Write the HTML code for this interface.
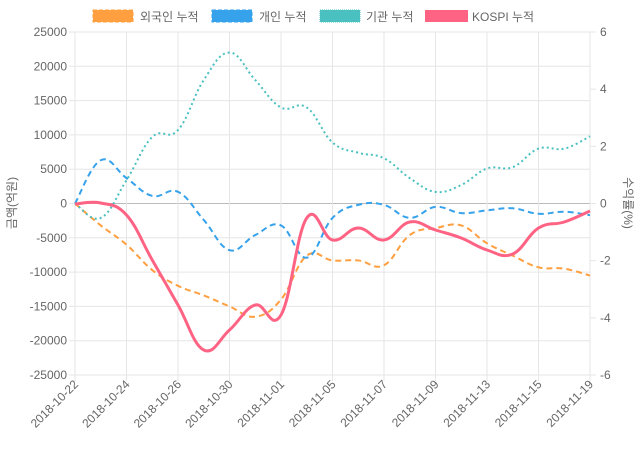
<!DOCTYPE html>
<html><head><meta charset="utf-8"><style>
body{margin:0;background:#fff;font-family:"Liberation Sans","Noto Sans CJK KR",sans-serif;}
svg text{font-family:"Liberation Sans","Noto Sans CJK KR",sans-serif;fill:#666;font-size:12px;}
</style></head><body>
<svg id="s" width="640" height="450" xmlns="http://www.w3.org/2000/svg">
<g id="grid"></g>
<g id="lines"></g>
<rect x="93" y="10" width="40" height="12" fill="#ff9f40" stroke="#ff9f40" stroke-dasharray="4 2"/>
<text x="140" y="21">외국인 누적</text>
<rect x="212" y="10" width="40" height="12" fill="#36a2eb" stroke="#36a2eb" stroke-dasharray="4 2"/>
<text x="259" y="21">개인 누적</text>
<rect x="320" y="10" width="40" height="12" fill="#4bc0c0" stroke="#4bc0c0" stroke-dasharray="1 1"/>
<text x="366" y="21">기관 누적</text>
<rect x="425" y="10" width="43" height="12" fill="#ff6384"/>
<text x="472" y="21">KOSPI 누적</text>
<text transform="translate(16,203) rotate(-90)" text-anchor="middle">금액(억원)</text>
<text transform="translate(624,203) rotate(90)" text-anchor="middle">수익률(%)</text>
</svg>
<script>
var s=document.getElementById('grid'),L=document.getElementById('lines'),ns='http://www.w3.org/2000/svg';
function el(t,a,p,txt){var e=document.createElementNS(ns,t);for(var k in a)e.setAttribute(k,a[k]);if(txt)e.textContent=txt;(p||s).appendChild(e);return e;}
var x0=75,x1=590,yT=32,yB=375;
for(var i=0;i<=10;i++){var y=yT+i*(yB-yT)/10,v=25000-i*5000;
el('line',{x1:x0,x2:x1,y1:y,y2:y,stroke:v==0?'#bbb':'#e6e6e6','stroke-width':1});
el('line',{x1:x0-6,x2:x0,y1:y,y2:y,stroke:'#e6e6e6'});
el('text',{x:67,y:y+4,'text-anchor':'end'},null,String(v));}
for(var i=0;i<=6;i++){var y=yT+i*(yB-yT)/6;el('line',{x1:x1,x2:x1+6,y1:y,y2:y,stroke:'#e6e6e6'});
el('text',{x:600,y:y+4},null,String(6-2*i));}
var dates=['2018-10-22','2018-10-24','2018-10-26','2018-10-30','2018-11-01','2018-11-05','2018-11-07','2018-11-09','2018-11-13','2018-11-15','2018-11-19'];
var dx=(x1-x0)/20;
for(var i=0;i<=10;i++){var x=x0+i*2*dx;el('line',{x1:x,x2:x,y1:yT,y2:yB+6,stroke:'#e6e6e6'});
el('text',{transform:'translate('+(x+4)+',385) rotate(-45)','text-anchor':'end'},null,dates[i]);}
function ym(v){return 203.5-v*(343/50000);}
function path(ys){var p=ys.map(function(y,i){return [x0+i*dx,y];});var d='M'+p[0][0]+','+p[0][1];
for(var i=0;i<p.length-1;i++){var a=p[i-1]||p[i],b=p[i],c=p[i+1],e=p[i+2]||c,t=0.2;
d+=' C'+(b[0]+(c[0]-a[0])*t)+','+(b[1]+(c[1]-a[1])*t)+' '+(c[0]-(e[0]-b[0])*t)+','+(c[1]-(e[1]-b[1])*t)+' '+c[0]+','+c[1];}return d;}
var f=[0,-3200,-6000,-9700,-12000,-13400,-15000,-16500,-14000,-7600,-8300,-8300,-9000,-4600,-3600,-3200,-5800,-7600,-9300,-9500,-10500];
var ind=[0,6300,3700,1100,1700,-2400,-6800,-4600,-3200,-7900,-2100,-200,-200,-2100,-500,-1400,-1000,-700,-1500,-1200,-1700];
var ins=[0,-2100,3400,9700,10700,18000,22000,18000,14000,14000,8900,7400,6600,3700,1700,2700,5100,5300,8000,8000,9800];
var k=[204,203,215,260,305,350,330,305,315,218,240,228,240,222,230,238,250,254,228,222,211];
el('path',{d:path(f.map(ym)),fill:'none',stroke:'#ff9f40','stroke-width':2,'stroke-dasharray':'6 4'},L);
el('path',{d:path(ind.map(ym)),fill:'none',stroke:'#36a2eb','stroke-width':2,'stroke-dasharray':'6 4'},L);
el('path',{d:path(ins.map(ym)),fill:'none',stroke:'#4bc0c0','stroke-width':2,'stroke-dasharray':'2 3'},L);
el('path',{d:path(k),fill:'none',stroke:'#ff6384','stroke-width':3},L);
</script>
</body></html>
